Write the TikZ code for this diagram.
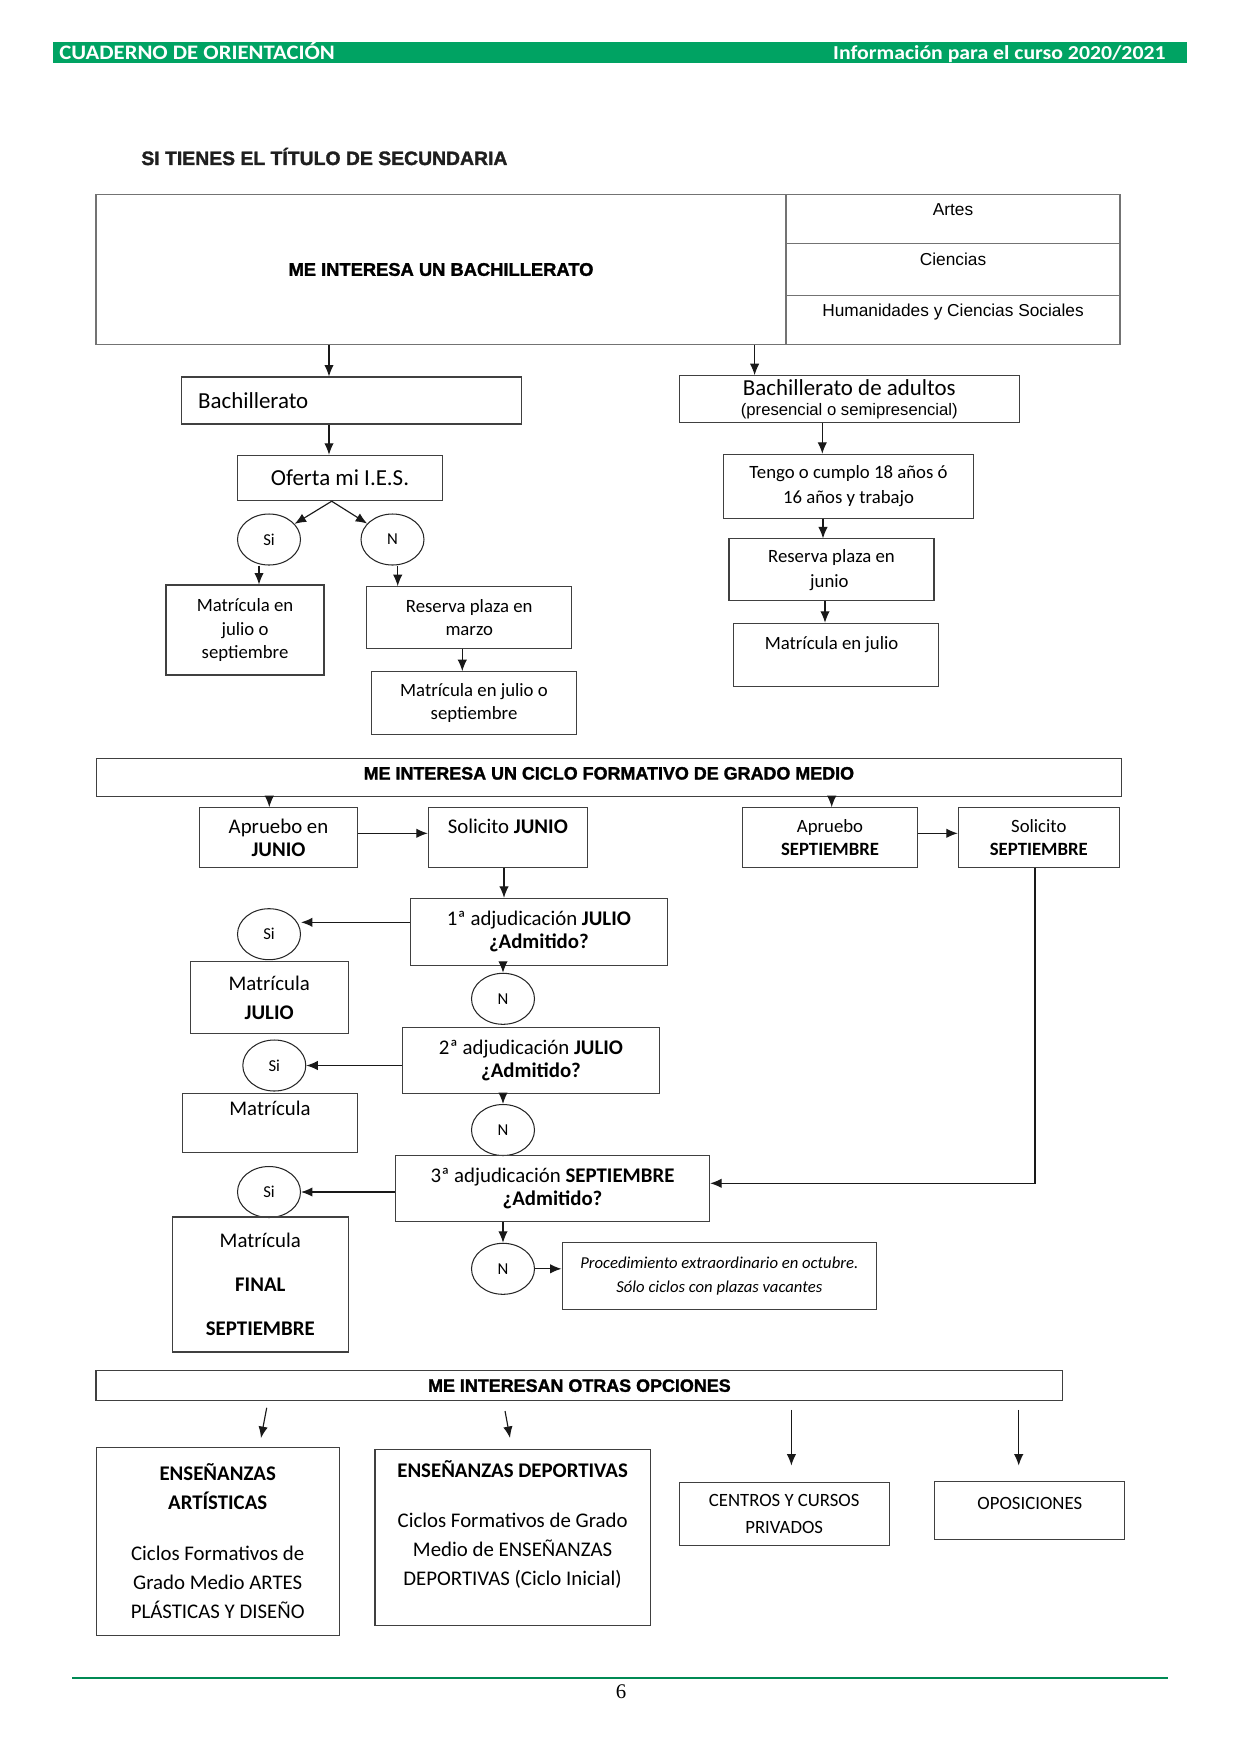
\documentclass[tikz,border=0pt]{standalone}
\usepackage{fontspec}
\setmainfont{Carlito}
\newfontfamily\arialf[BoldFeatures={FakeBold=1.6}]{Liberation Sans}
\newfontfamily\headf[FakeStretch=1.1]{Carlito}
\newfontfamily\pagef{Liberation Serif}
\usetikzlibrary{shapes.geometric,arrows.meta,positioning}
\definecolor{cuadgreen}{RGB}{0,163,99}
\tikzset{
  box/.style={draw=black!75, line width=0.5pt, inner sep=0pt, align=center},
  wh/.style 2 args={minimum width=#1*0.48pt, minimum height=#2*0.48pt},
  ell/.style={ellipse, draw=black!85, line width=0.5pt, inner sep=0pt,
    minimum width=63*0.48pt, minimum height=51*0.48pt, font=\fontsize{8}{9}\selectfont},
  banner/.style={box, font=\arialf\bfseries\fontsize{8.6}{10}\selectfont},
  arr/.style={->, line width=0.55pt, draw=black!90},
}

\begin{document}
\begin{tikzpicture}[x=0.48pt, y=-0.48pt, >={Latex[length=5.5pt,width=4.5pt]}]
  \useasboundingbox (0,0) rectangle (1241,1754);

  % page header
  \fill[cuadgreen] (53,42.3) rectangle (1187,63.3);
  \node[anchor=base west, inner sep=0pt, text=white, font=\headf\bfseries\fontsize{9.9}{11}\selectfont] (cuaderno) at (59,59) {CUADERNO DE ORIENTACIÓN};
  \node[anchor=base east, inner sep=0pt, text=white, font=\headf\bfseries\fontsize{9.5}{11}\selectfont] (curso) at (1166,59) {Información para el curso 2020/2021};
  \node[anchor=west, inner sep=0pt, text=black!88, font=\arialf\bfseries\fontsize{9.3}{11}\selectfont] (titulo) at (141,156.5) {SI TIENES EL TÍTULO DE SECUNDARIA};

  % bachillerato
  \node[box, draw=black!55, wh={690}{150}, font=\arialf\bfseries\fontsize{8.8}{10}\selectfont] (interes) at (441,269.5) {ME INTERESA UN BACHILLERATO};
  \node[box, draw=black!55, wh={334}{49.2}, font=\arialf\fontsize{8.3}{9.6}\selectfont] (artes) at (953,219.1) {Artes\\ ~};
  \node[box, draw=black!55, wh={334}{52}, font=\arialf\fontsize{8.3}{9.6}\selectfont] (ciencias) at (953,269.7) {Ciencias\\ ~};
  \node[box, draw=black!55, wh={334}{48.8}, font=\arialf\fontsize{8.3}{9.6}\selectfont] (humanid) at (953,320.1) {Humanidades y Ciencias Sociales\\ ~};

  \node[box, wh={340}{47}, text width=147.4pt, align=left, font=\fontsize{11}{13}\selectfont] (bach) at (351.7,400.5) {Bachillerato};
  \node[box, wh={205.4}{45.4}, font=\fontsize{11}{13}\selectfont] (oferta) at (340,478) {Oferta mi I.E.S.};
  \node[ell] (si1) at (269,539.5) {Si};
  \node[ell] (no1) at (392.5,539.5) {N};
  \node[box, wh={158}{90}, font=\fontsize{9}{11.2}\selectfont] (matjs) at (245,630) {Matrícula en\\julio o\\septiembre};
  \node[box, wh={205}{61.6}, font=\fontsize{9}{11.2}\selectfont] (resmar) at (469.2,617.5) {Reserva plaza en\\marzo};
  \node[box, wh={205.4}{62.6}, font=\fontsize{9}{11.2}\selectfont] (matjs2) at (474,703) {Matrícula en julio o\\septiembre};

  \node[box, wh={340}{46.6}, font=\fontsize{11}{13}\selectfont] (adultos) at (849.3,399) {Bachillerato de adultos\\[-3.5pt]{\arialf\fontsize{8}{9.6}\selectfont (presencial o semipresencial)}};
  \node[box, wh={249.6}{64}, font=\fontsize{9}{12}\selectfont] (tengo) at (848.5,486.3) {Tengo o cumplo 18 años ó\\16 años y trabajo};
  \node[box, wh={205}{61.7}, font=\fontsize{9}{12}\selectfont] (resjun) at (831.5,569.8) {Reserva plaza en\\junio~~};
  \node[box, wh={205}{63.4}, font=\fontsize{9}{11.2}\selectfont] (matjul) at (835.8,655) {Matrícula en julio~~~\\ ~};

  \draw[arr] (interes.south -| 329,0) -- (bach.north -| 329,0);
  \draw[arr] (interes.south -| 754.6,0) -- (adultos.north -| 754.6,0);
  \draw[arr] (bach.south -| 329,0) -- (oferta.north -| 329,0);
  \draw[arr] (oferta.south -| 331.7,0) -- (si1);
  \draw[arr] (oferta.south -| 331.7,0) -- (no1);
  \draw[arr] (si1.south -| 259,0) -- (matjs.north -| 259,0);
  \draw[arr] (no1.south -| 397.7,0) -- (resmar.north -| 397.7,0);
  \draw[arr] (resmar.south -| 462.3,0) -- (matjs2.north -| 462.3,0);
  \draw[arr] (adultos.south -| 822.3,0) -- (tengo.north -| 822.3,0);
  \draw[arr] (tengo.south -| 823,0) -- (resjun.north -| 823,0);
  \draw[arr] (resjun.south -| 825,0) -- (matjul.north -| 825,0);

  % ciclo formativo
  \node[banner, wh={1025.7}{37.7}, text depth=3.8pt] (ciclo) at (608.9,777.2) {ME INTERESA UN CICLO FORMATIVO DE GRADO MEDIO};
  \node[box, wh={158.4}{59.6}, font=\fontsize{10}{10.9}\selectfont] (apjun) at (278.5,837.5) {Apruebo en\\\textbf{JUNIO}};
  \node[box, wh={159}{59.6}, font=\fontsize{10}{10.9}\selectfont] (soljun) at (507.8,837.5) {Solicito \textbf{JUNIO}\\ ~};
  \node[box, wh={174.6}{59.6}, font=\fontsize{9}{10.9}\selectfont] (apsep) at (830,837.5) {Apruebo\\\textbf{SEPTIEMBRE}};
  \node[box, wh={161}{59.6}, font=\fontsize{9}{10.9}\selectfont] (solsep) at (1038.8,837.5) {Solicito\\\textbf{SEPTIEMBRE}};

  \node[box, wh={257}{66.7}, font=\fontsize{10}{10.9}\selectfont] (adj1) at (538.9,931.7) {1ª adjudicación \textbf{JULIO}\\\textbf{¿Admitido?}};
  \node[ell] (si2) at (269,934.2) {Si};
  \node[box, wh={158.3}{71.6}, font=\fontsize{10}{13.8}\selectfont] (matjulio) at (269.2,997.5) {Matrícula\\\textbf{JULIO}};
  \node[ell] (no2) at (503,998.8) {N};
  \node[box, wh={257.5}{66}, font=\fontsize{10}{10.9}\selectfont] (adj2) at (531,1060.3) {2ª adjudicación \textbf{JULIO}\\\textbf{¿Admitido?}};
  \node[ell] (si3) at (274.3,1065.5) {Si};
  \node[box, wh={175.4}{59}, font=\fontsize{10}{13.8}\selectfont] (matri) at (270,1122.8) {Matrícula\\ ~};
  \node[ell] (no3) at (503,1130) {N};
  \node[box, wh={314.3}{66}, font=\fontsize{10}{10.9}\selectfont] (adj3) at (552.5,1188.7) {3ª adjudicación \textbf{SEPTIEMBRE}\\\textbf{¿Admitido?}};
  \node[ell] (si4) at (269,1192) {Si};
  \node[box, wh={176}{135}, font=\fontsize{10}{21}\selectfont] (matfin) at (260.3,1284.5) {Matrícula\\\textbf{FINAL}\\\textbf{SEPTIEMBRE}};
  \node[ell] (no4) at (503,1268.8) {N};
  \node[box, wh={314.5}{66.3}, font=\itshape\fontsize{8}{11.3}\selectfont] (extra) at (719.3,1275.9) {Procedimiento extraordinario en octubre.\\Sólo ciclos con plazas vacantes};

  \draw[arr] (ciclo.south -| 269.3,0) -- (apjun.north -| 269.3,0);
  \draw[arr] (ciclo.south -| 831.7,0) -- (apsep.north -| 831.7,0);
  \draw[arr] (apjun.east |- 0,833.3) -- (soljun.west |- 0,833.3);
  \draw[arr] (apsep.east |- 0,833.3) -- (solsep.west |- 0,833.3);
  \draw[arr] (soljun.south -| 504,0) -- (adj1.north -| 504,0);
  \draw[arr] (adj1.west |- 0,922.3) -- (si2.east |- 0,922.3);
  \draw[arr] (adj1.south -| no2) -- (no2);
  \draw[arr] (adj2.west |- si3) -- (si3);
  \draw[arr] (adj2.south -| no3) -- (no3);
  \draw[arr] (adj3.west |- si4) -- (si4);
  \draw[arr] (adj3.south -| no4) -- (no4);
  \draw[arr] (no4) -- (extra.west |- no4);
  \draw[arr] (solsep.south -| 1035,0) |- (adj3.east |- 0,1183.3);

  % otras opciones
  \node[banner, wh={966.8}{29.8}] (otras) at (579.4,1385.6) {ME INTERESAN OTRAS OPCIONES};
  \node[box, wh={243.3}{187.7}, font=\fontsize{10}{13.9}\selectfont] (artis) at (217.7,1541.2) {\textbf{ENSEÑANZAS}\\\textbf{ARTÍSTICAS}\\[10.6pt]Ciclos Formativos de\\Grado Medio ARTES\\PLÁSTICAS Y DISEÑO};
  \node[box, wh={275.2}{175.7}, font=\fontsize{10}{13.9}\selectfont] (deport) at (512.6,1537.2) {\textbf{ENSEÑANZAS DEPORTIVAS}\\[10.1pt]Ciclos Formativos de Grado\\Medio de ENSEÑANZAS\\DEPORTIVAS (Ciclo Inicial)\\ ~};
  \node[box, wh={210}{62.7}, font=\fontsize{9}{12.8}\selectfont] (centros) at (784.2,1513.7) {CENTROS Y CURSOS\\PRIVADOS};
  \node[box, wh={190.1}{57.7}, font=\fontsize{9}{12.8}\selectfont] (oposi) at (1029.8,1510.2) {OPOSICIONES\\[-6pt]~};

  \draw[arr, shorten <=3.3pt, shorten >=4.3pt] (otras.south -| 268,0) -- (artis.north -| 259.3,0);
  \draw[arr, shorten <=4.9pt, shorten >=5.3pt] (otras.south -| 503.2,0) -- (deport.north -| 512,0);
  \draw[arr, shorten <=4.2pt, shorten >=7.8pt] (otras.south -| 791.4,0) -- (centros.north -| 791.4,0);
  \draw[arr, shorten <=4.2pt, shorten >=7.3pt] (otras.south -| 1018.7,0) -- (oposi.north -| 1018.7,0);

  % page footer
  \draw[cuadgreen!85!black, line width=0.8pt] (72,1678.3) -- (1168,1678.3);
  \node[inner sep=0pt, font=\pagef\fontsize{10}{12}\selectfont] (pagina) at (621,1692) {6};
\end{tikzpicture}
\end{document}
